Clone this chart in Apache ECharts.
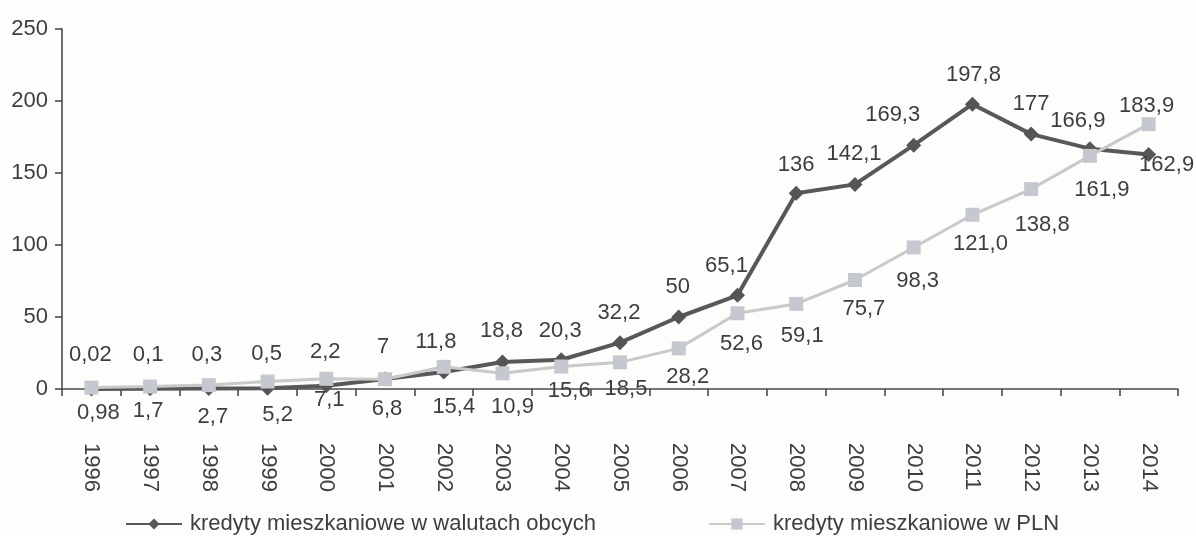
<!DOCTYPE html>
<html>
<head>
<meta charset="utf-8">
<script src="https://cdn.jsdelivr.net/npm/echarts@6/dist/echarts.min.js"></script>
<style>
  html, body { margin: 0; padding: 0; background: #fdfdfc; }
  #chart { width: 1196px; height: 536px; }
</style>
</head>
<body>
<div id="chart"></div>
<script>
// Years on the category axis
const years = ['1996','1997','1998','1999','2000','2001','2002','2003','2004','2005',
               '2006','2007','2008','2009','2010','2011','2012','2013','2014'];

// Values as printed (Polish decimal comma); numbers are parsed from these
const fxValues = ['0,02','0,1','0,3','0,5','2,2','7','11,8','18,8','20,3','32,2',
                  '50','65,1','136','142,1','169,3','197,8','177','166,9','162,9'];
const plnValues = ['0,98','1,7','2,7','5,2','7,1','6,8','15,4','10,9','15,6','18,5',
                   '28,2','52,6','59,1','75,7','98,3','121,0','138,8','161,9','183,9'];

const seriesNames = ['kredyty mieszkaniowe w walutach obcych', 'kredyty mieszkaniowe w PLN'];
const yTicks = [0, 50, 100, 150, 200, 250];

// Label placement relative to each point (dx, dy in px)
const fxLabelOffset = [[-1,-34],[-2,-34],[-2,-34],[-1,-34],[-1,-34],[-2,-32],[-8,-30],[-1,-31],
  [-1,-29],[-1,-30],[-1,-30],[-11,-29],[0,-28],[-1,-30],[-21,-30],[1,-29],[0,-30],[-12,-28],[18,11]];
const plnLabelOffset = [[7,25],[-2,24],[4,32],[10,33],[3,21],[2,30],[10,40],[10,34],
  [8,24],[6,27],[9,29],[4,31],[6,32],[9,29],[4,33],[8,29],[11,36],[12,34],[-2,-18]];

const toNum = s => parseFloat(s.replace(',', '.'));

const FONT = '"Liberation Sans", Arial, sans-serif';
const TEXT = '#3e3e3e';

function buildData(raw, offsets) {
  return raw.map((s, i) => ({
    value: toNum(s),
    label: { offset: offsets[i] }
  }));
}

const chart = echarts.init(document.getElementById('chart'), null, { renderer: 'canvas' });

chart.setOption({
  backgroundColor: '#fdfdfc',
  animation: false,
  grid: { left: 62, right: 18, top: 29, bottom: 147, containLabel: false },
  legend: {
    data: seriesNames,
    left: 120,
    top: 508,
    itemWidth: 56,
    itemHeight: 14,
    itemGap: 112,
    textStyle: { fontFamily: FONT, fontSize: 22, color: TEXT, padding: [0, 0, 0, 3] }
  },
  xAxis: {
    type: 'category',
    data: years,
    boundaryGap: true,
    axisLine: { lineStyle: { color: '#4a4a4a', width: 1.6 } },
    axisTick: { show: true, length: 7, inside: false, lineStyle: { color: '#4a4a4a', width: 1.6 } },
    axisLabel: { rotate: -90, margin: 54, fontFamily: FONT, fontSize: 22, color: TEXT, interval: 0 },
    splitLine: { show: false }
  },
  yAxis: {
    type: 'value',
    min: yTicks[0],
    max: yTicks[yTicks.length - 1],
    interval: 50,
    axisLine: { show: true, lineStyle: { color: '#4a4a4a', width: 1.6 } },
    axisTick: { show: true, length: 7, lineStyle: { color: '#4a4a4a', width: 1.6 } },
    axisLabel: { margin: 14, fontFamily: FONT, fontSize: 22, color: TEXT },
    splitLine: { show: false }
  },
  series: [
    {
      name: seriesNames[0],
      type: 'line',
      data: buildData(fxValues, fxLabelOffset),
      symbol: 'diamond',
      symbolSize: 15,
      showAllSymbol: true,
      itemStyle: { color: '#555555' },
      lineStyle: { color: '#585858', width: 4 },
      label: {
        show: true,
        position: 'inside',
        fontFamily: FONT, fontSize: 22, color: TEXT,
        formatter: p => fxValues[p.dataIndex]
      },
      z: 2
    },
    {
      name: seriesNames[1],
      type: 'line',
      data: buildData(plnValues, plnLabelOffset),
      symbol: 'rect',
      symbolSize: 14,
      showAllSymbol: true,
      itemStyle: { color: '#c5c8cf' },
      lineStyle: { color: '#c9c9c9', width: 3 },
      label: {
        show: true,
        position: 'inside',
        fontFamily: FONT, fontSize: 22, color: TEXT,
        formatter: p => plnValues[p.dataIndex]
      },
      z: 3
    }
  ]
});
</script>
</body>
</html>
